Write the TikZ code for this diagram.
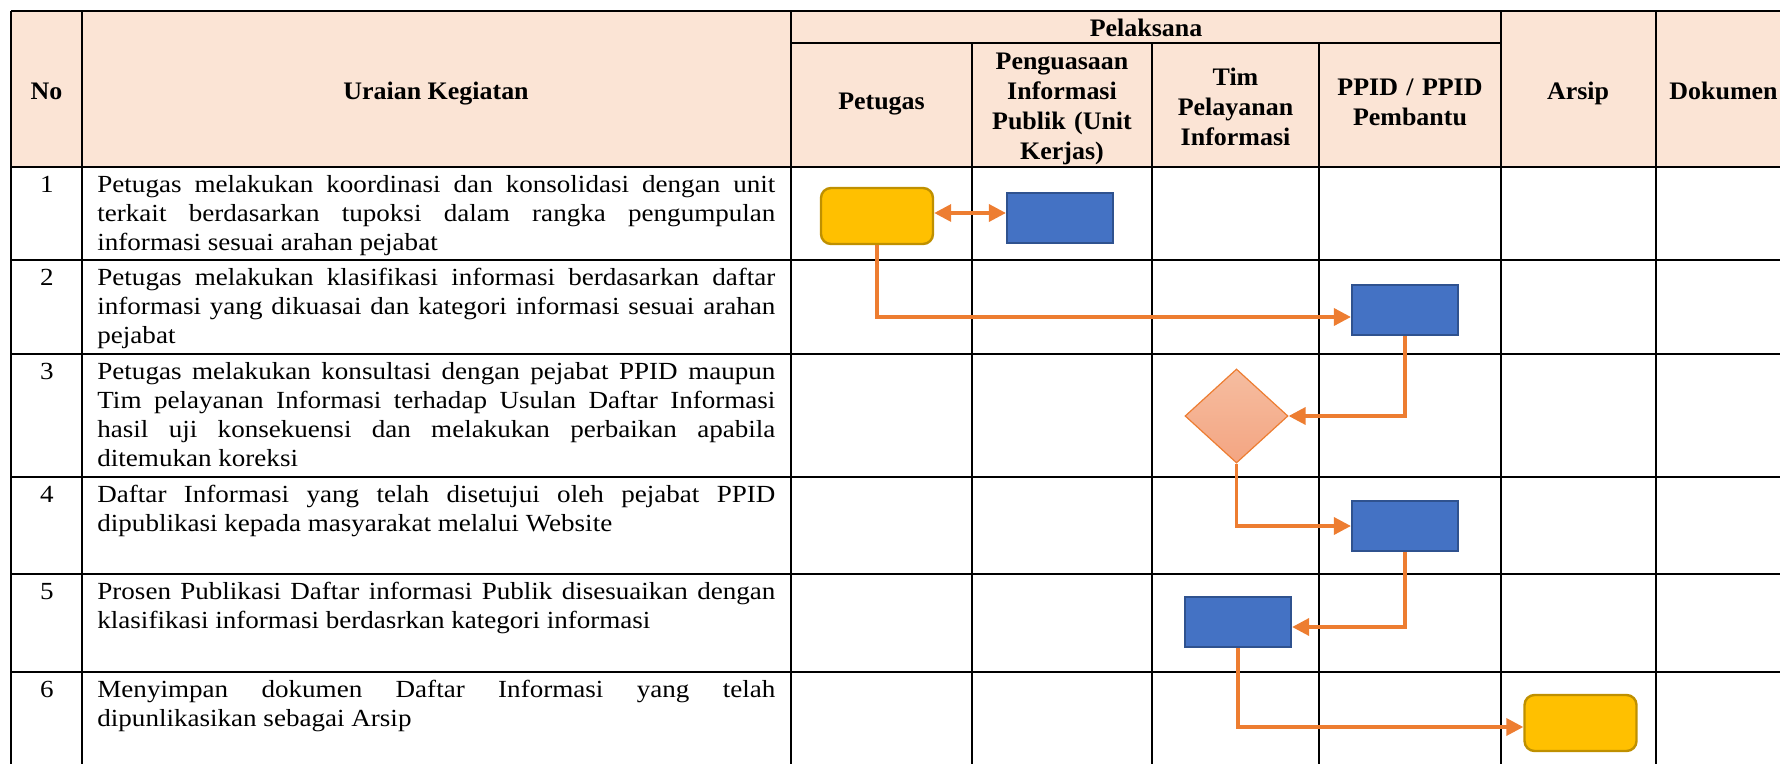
\documentclass[tikz,border=0pt]{standalone}
\usepackage{fontspec}
\setmainfont{Liberation Serif}
\newfontfamily\bodyfont{Liberation Serif}[FakeStretch=1.1]
\newfontfamily\headfont{Liberation Serif}[FakeStretch=1.03]
\usetikzlibrary{shapes.geometric,arrows.meta}
\definecolor{hdr}{HTML}{FBE4D5}
\definecolor{ygold}{HTML}{FFC000}
\definecolor{ygoldline}{HTML}{BF9000}
\definecolor{bblue}{HTML}{4472C4}
\definecolor{bblueline}{HTML}{2F528F}
\definecolor{orng}{HTML}{ED7D31}
\definecolor{dtop}{HTML}{F5BDA0}
\definecolor{dbot}{HTML}{F4A582}
\tikzset{
  tbl/.style={line width=1.4pt, black},
  hd/.style={font=\headfont\fontsize{12.6}{15}\selectfont\bfseries, inner sep=0pt, anchor=base},
  hdm/.style={font=\headfont\fontsize{12.6}{15}\selectfont\bfseries, inner sep=0pt, anchor=north, align=center},
  bd/.style={font=\bodyfont\fontsize{12.3}{14.5}\selectfont, inner sep=0pt, anchor=north west, text width=339pt, align=justify},
  nm/.style={font=\bodyfont\fontsize{12.3}{14.5}\selectfont, inner sep=0pt, anchor=base},
  yb/.style={draw=ygoldline, fill=ygold, line width=1.2pt, rounded corners=5pt, minimum width=56pt, minimum height=28pt, inner sep=0pt},
  bb/.style={draw=bblueline, fill=bblue, line width=1.1pt, minimum width=53pt, minimum height=25pt, inner sep=0pt},
  dm/.style={diamond, draw=orng, line width=0.6pt, top color=dtop, bottom color=dbot, minimum width=51.5pt, minimum height=47pt, inner sep=0pt},
  conn/.style={draw=orng, line width=1.75pt, -{Triangle[length=8.5pt,width=8.5pt]}},
}
\begin{document}
\begin{tikzpicture}[x=0.5pt,y=-0.5pt]
\useasboundingbox (0,0) rectangle (1780,764);
\clip (0,0) rectangle (1780,764);
% header background
\fill[hdr] (11,11) rectangle (1800,167);
% grid
\draw[tbl] (11,11) -- (1800,11);
\draw[tbl] (791,43) -- (1501,43);
\foreach \y in {167,260,354,477,574,672} \draw[tbl] (11,\y) -- (1800,\y);
\foreach \x in {11,82,791,1501,1656} \draw[tbl] (\x,11) -- (\x,780);
\foreach \x in {972,1152,1319} \draw[tbl] (\x,43) -- (\x,780);
% header texts
\node[hd] (hno) at (46.5,100) {No};
\node[hd] (hur) at (436,100) {Uraian Kegiatan};
\node[hd] (hpel) at (1146,36.5) {Pelaksana};
\node[hd] (hpet) at (881.5,110) {Petugas};
\node[hdm, text width=85pt] (hpen) at (1062,48) {\strut Penguasaan\\Informasi\\Publik (Unit\\Kerjas)};
\node[hdm, text width=80pt] (htim) at (1235.5,64) {\strut Tim\\Pelayanan\\Informasi};
\node[hdm, text width=85pt] (hppid) at (1410,74) {\strut PPID / PPID\\Pembantu};
\node[hd] (harsip) at (1578,100) {Arsip};
\node[hd, anchor=base west] (hdok) at (1669,100) {Dokumen};
% numbers
\node[nm] (n1) at (47,192.5) {1};
\node[nm] (n2) at (47,285.5) {2};
\node[nm] (n3) at (47,379.5) {3};
\node[nm] (n4) at (47,502.5) {4};
\node[nm] (n5) at (47,599.5) {5};
\node[nm] (n6) at (47,697.5) {6};
% descriptions
\node[bd] (t1) at (97,172.2) {\strut Petugas melakukan koordinasi dan konsolidasi dengan unit\linebreak terkait berdasarkan tupoksi dalam rangka pengumpulan\linebreak informasi sesuai arahan pejabat};
\node[bd] (t2) at (97,265.2) {\strut Petugas melakukan klasifikasi informasi berdasarkan daftar\linebreak informasi yang dikuasai dan kategori informasi sesuai arahan\linebreak pejabat};
\node[bd] (t3) at (97,359.2) {\strut Petugas melakukan konsultasi dengan pejabat PPID maupun\linebreak Tim pelayanan Informasi terhadap Usulan Daftar Informasi\linebreak hasil uji konsekuensi dan melakukan perbaikan apabila\linebreak ditemukan koreksi};
\node[bd] (t4) at (97,482.2) {\strut Daftar Informasi yang telah disetujui oleh pejabat PPID\linebreak dipublikasi kepada masyarakat melalui Website};
\node[bd] (t5) at (97,579.2) {\strut Prosen Publikasi Daftar informasi Publik disesuaikan dengan\linebreak klasifikasi informasi berdasrkan kategori informasi};
\node[bd] (t6) at (97,677.2) {\strut Menyimpan dokumen Daftar Informasi yang telah\linebreak dipunlikasikan sebagai Arsip};
% flow shapes
\node[yb] (y1) at (877,216) {};
\node[bb] (b1) at (1060,218) {};
\node[bb] (b2) at (1405,310) {};
\node[dm] (d) at (1236.5,416) {};
\node[bb] (b3) at (1405,526) {};
\node[bb] (b4) at (1238,622) {};
\node[yb] (y2) at (1580.5,723) {};
% connectors
\draw[conn, {Triangle[length=8.5pt,width=8.5pt]}-{Triangle[length=8.5pt,width=8.5pt]}] (y1.east |- 0,213) -- (b1.west |- 0,213);
\draw[conn] (y1.south) |- (b2.west |- 0,317);
\draw[conn] (b2.south) |- (d.east);
\draw[conn] (d.south) |- (b3.west);
\draw[conn] (b3.south) |- (b4.east |- 0,627);
\draw[conn] (b4.south) |- (y2.west |- 0,727);
\end{tikzpicture}
\end{document}
